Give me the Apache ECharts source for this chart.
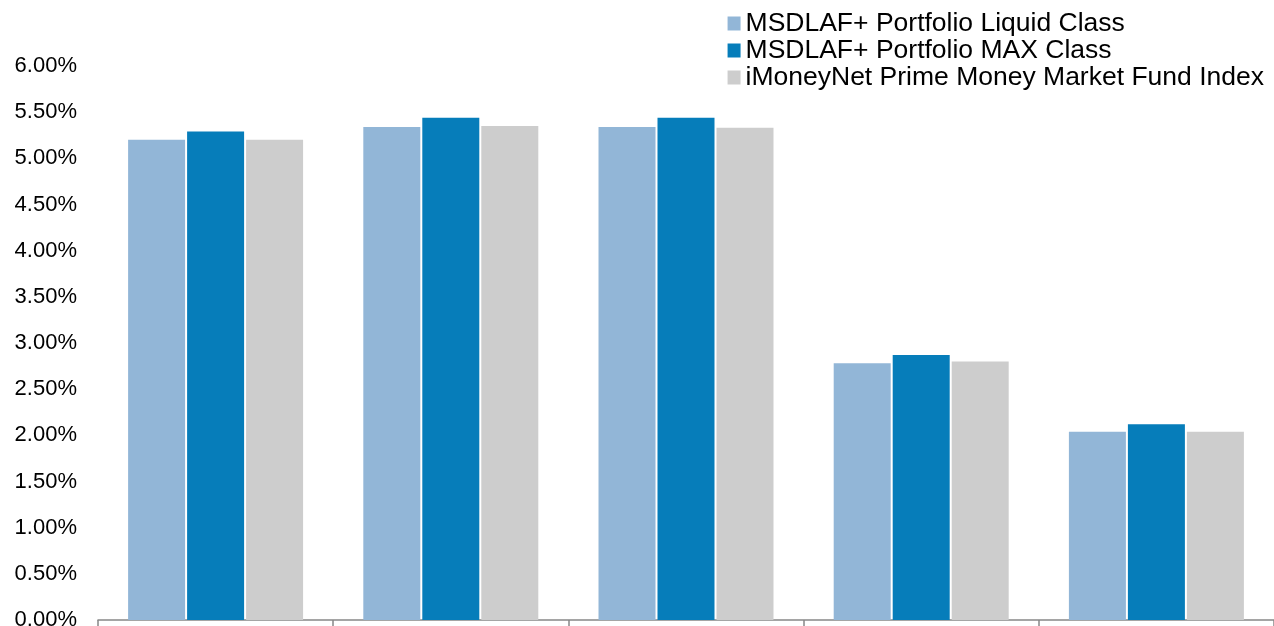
<!DOCTYPE html>
<html><head><meta charset="utf-8">
<script src="https://cdn.jsdelivr.net/npm/echarts@6/dist/echarts.min.js"></script>
<style>html,body{margin:0;padding:0;background:#fff}#c{width:1274px;height:626px}</style>
</head><body><div id="c"></div>
<script>
const categories = ['Period 1', 'Period 2', 'Period 3', 'Period 4', 'Period 5'];
const seriesNames = ['MSDLAF+ Portfolio Liquid Class', 'MSDLAF+ Portfolio MAX Class', 'iMoneyNet Prime Money Market Fund Index'];
const liquidClass = [5.20, 5.34, 5.34, 2.78, 2.04];
const maxClass = [5.29, 5.44, 5.44, 2.87, 2.12];
const iMoneyNet = [5.20, 5.35, 5.33, 2.80, 2.04];
const colors = ['#92B6D7', '#067DBA', '#CDCDCD'];

const chart = echarts.init(document.getElementById('c'));
const mk = (name, data, color) => ({
  name, type: 'bar', data, barWidth: 57, barGap: '3.5%',
  itemStyle: { color }, emphasis: { disabled: true }
});
chart.setOption({
  animation: false,
  textStyle: { fontFamily: 'Liberation Sans, Arial, sans-serif' },
  legend: {
    orient: 'vertical', right: 5, top: 5, itemWidth: 13, itemHeight: 14, itemGap: 0,
    icon: 'rect',
    textStyle: { fontSize: 26.5, lineHeight: 27, color: '#000', padding: [0, 0, 0, 0] },
    data: seriesNames
  },
  grid: { left: 98, right: 0, top: 66, bottom: 6, containLabel: false, outerBoundsMode: 'none' },
  xAxis: {
    type: 'category', data: categories,
    axisLine: { lineStyle: { color: '#888', width: 1.5 } },
    axisTick: { show: true, length: 8, lineStyle: { color: '#888', width: 1.5 } },
    axisLabel: { show: false }
  },
  yAxis: {
    type: 'value', min: 0, max: 6, interval: 0.5,
    axisLine: { show: false }, axisTick: { show: false }, splitLine: { show: false },
    axisLabel: { fontSize: 22, color: '#000', margin: 21, formatter: v => v.toFixed(2) + '%' }
  },
  series: [mk(seriesNames[0], liquidClass, colors[0]), mk(seriesNames[1], maxClass, colors[1]), mk(seriesNames[2], iMoneyNet, colors[2])]
});
</script></body></html>
